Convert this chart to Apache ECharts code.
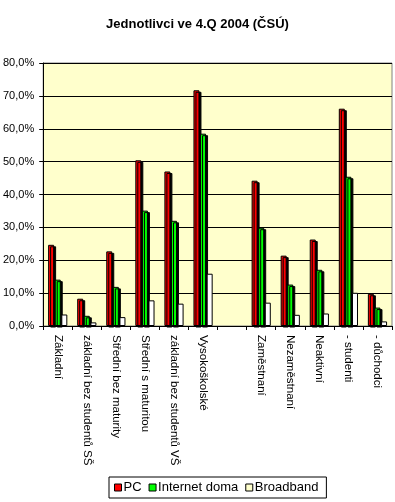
<!DOCTYPE html>
<html><head><meta charset="utf-8">
<script src="https://cdn.jsdelivr.net/npm/echarts@6/dist/echarts.min.js"></script>
<style>html,body{margin:0;padding:0;background:#fff}#c{width:395px;height:502px}</style>
</head><body><div id="c"></div>
<script>
const categories = ['Základní','základní bez studentů SŠ','Střední bez maturity','Střední s maturitou','základní bez studentů VŠ','Vysokoškolské','','Zaměstnaní','Nezaměstnaní','Neaktivní','- studenti','- důchodci'];
const pcValues = [24.7, 8.3, 22.7, 50.4, 47.0, 71.7, null, 44.2, 21.4, 26.3, 66.1, 9.8];
const internetValues = [14.1, 3.1, 11.9, 35.1, 32.0, 58.5, null, 29.9, 12.6, 17.1, 45.4, 5.6];
const broadbandValues = [3.5, 1.1, 2.7, 7.8, 6.8, 15.9, null, 7.1, 3.4, 3.8, 10.1, 1.4];
const seriesNames = ['PC','Internet doma','Broadband'];
const titleText = 'Jednotlivci ve 4.Q 2004 (ČSÚ)';

const font = 'Liberation Sans, Arial, sans-serif';
const chart = echarts.init(document.getElementById('c'));
const shadowStyle = (c) => ({color: c, borderColor: '#000', borderWidth: 1, shadowColor: '#000', shadowOffsetX: 2, shadowOffsetY: 1.5, shadowBlur: 0});
chart.setOption({
  animation: false,
  backgroundColor: '#fff',
  title: {text: titleText, left: 'center', top: 13, textStyle: {fontFamily: font, fontSize: 13, fontWeight: 'bold', color: '#000'}},
  grid: {left: 42, right: 3, top: 63, bottom: 176, show: true, backgroundColor: '#ffffcc', borderColor: '#808080', borderWidth: 1, containLabel: false},
  legend: {
    bottom: 4, left: 109,
    data: [
      {name: seriesNames[0], itemStyle: {color: '#ff0000', borderColor: '#000', borderWidth: 1}},
      {name: seriesNames[1], itemStyle: {color: '#00ff00', borderColor: '#000', borderWidth: 1}},
      {name: seriesNames[2], itemStyle: {color: '#ffffcc', borderColor: '#000', borderWidth: 1}}
    ],
    icon: 'rect', itemWidth: 7, itemHeight: 7, itemGap: 7,
    borderColor: '#000', borderWidth: 1, padding: [4, 8, 4, 5],
    textStyle: {fontFamily: font, fontSize: 13, color: '#000', padding: [0, 0, 0, -3]}
  },
  xAxis: {
    type: 'category', data: categories,
    axisLine: {lineStyle: {color: '#000'}},
    axisTick: {show: true, length: 4, lineStyle: {color: '#000'}},
    axisLabel: {rotate: -90, interval: 0, color: '#000', fontFamily: font, fontSize: 11.5, margin: 9}
  },
  yAxis: {
    type: 'value', min: 0, max: 80, interval: 10,
    axisLine: {show: true, lineStyle: {color: '#000'}},
    axisTick: {show: true, length: 4, lineStyle: {color: '#000'}},
    splitLine: {lineStyle: {color: '#000'}},
    axisLabel: {color: '#000', fontFamily: font, fontSize: 11, margin: 9, formatter: v => v.toFixed(1).replace('.', ',') + '%'}
  },
  series: [
    {name: seriesNames[0], type: 'bar', data: pcValues, barWidth: 6, barGap: '10%', itemStyle: shadowStyle('#ff0000')},
    {name: seriesNames[1], type: 'bar', data: internetValues, barWidth: 6, barGap: '10%', itemStyle: shadowStyle('#00ff00')},
    {name: seriesNames[2], type: 'bar', data: broadbandValues, barWidth: 6, barGap: '10%', itemStyle: {color: '#ffffff', borderColor: '#000', borderWidth: 1}}
  ]
});
</script></body></html>
